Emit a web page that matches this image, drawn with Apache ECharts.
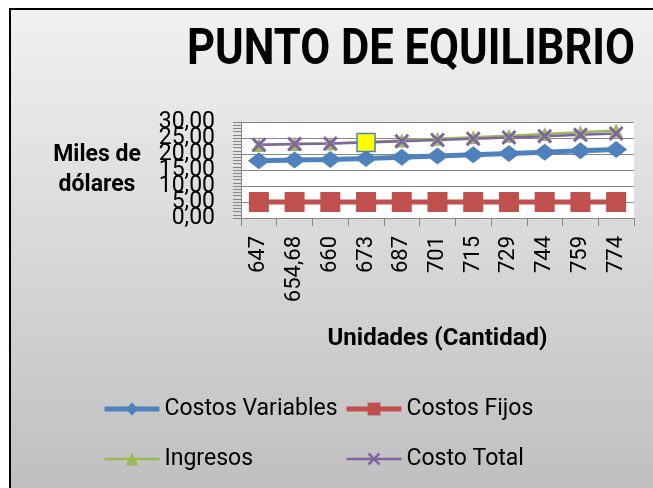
<!DOCTYPE html>
<html>
<head>
<meta charset="utf-8">
<script src="https://cdn.jsdelivr.net/npm/echarts@6/dist/echarts.min.js"></script>
<style>
  html, body { margin: 0; padding: 0; background: #fff; }
  #chart { width: 653px; height: 488px; }
</style>
</head>
<body>
<div id="chart"></div>
<script>
// Units sold (category axis)
const unidades = ['647', '654,68', '660', '673', '687', '701', '715', '729', '744', '759', '774'];

// Thousands of dollars per series
const costosVariables = [17.89, 18.10, 18.25, 18.61, 19.00, 19.38, 19.77, 20.16, 20.57, 20.99, 21.40];
const costosFijos     = [5.00, 5.00, 5.00, 5.00, 5.00, 5.00, 5.00, 5.00, 5.00, 5.00, 5.00];
const ingresos        = [22.83, 23.10, 23.29, 23.75, 24.24, 24.74, 25.23, 25.73, 26.26, 26.78, 27.31];
const costoTotal      = [22.89, 23.10, 23.25, 23.61, 24.00, 24.38, 24.77, 25.16, 25.57, 25.99, 26.40];

// Highlighted point on the total-cost line
const puntoResaltado = 3;

// Value axis range; labels are split in two sets so the tightly packed
// tick labels are not dropped by the overlap check
const yMin = 0, yMax = 30, yStep = 5, yLabelStep = 10;
const yEtiquetasIntermedias = ['5,00', '15,00', '25,00'];

const FONT = 'Roboto';
const AXIS_GRAY = '#868686';
const X_MARK = 'path://M0,1.4L1.4,0L5,3.6L8.6,0L10,1.4L6.4,5L10,8.6L8.6,10L5,6.4L1.4,10L0,8.6L3.6,5Z';

const chart = echarts.init(document.getElementById('chart'), null, { renderer: 'canvas' });

const costoTotalData = costoTotal.map((v, i) => i === puntoResaltado ? {
  value: v,
  symbol: 'rect',
  symbolSize: 18,
  itemStyle: { color: '#FFFF00', borderColor: '#4F81BD', borderWidth: 1.5 }
} : v);

const legendText = { fontFamily: FONT, fontSize: 23, color: '#000', lineHeight: 24 };
const legendBase = {
  orient: 'vertical',
  top: 397,
  padding: 0,
  itemGap: 26,
  itemWidth: 55,
  itemHeight: 16,
  textStyle: legendText
};

const yLabelStyle = { margin: 26, fontSize: 23, color: '#000', fontFamily: FONT };
const labelOnlyAxis = {
  position: 'left',
  axisLine: { show: false },
  axisTick: { show: false },
  splitLine: { show: false }
};

chart.setOption({
  animation: false,
  textStyle: { fontFamily: FONT },
  graphic: [
    {
      type: 'rect',
      silent: true,
      z: -100,
      shape: { x: 10, y: 9, width: 660, height: 490 },
      style: {
        fill: new echarts.graphic.LinearGradient(0, 0, 0, 1, [
          { offset: 0, color: '#f1f1f1' },
          { offset: 1, color: '#bebebe' }
        ]),
        stroke: '#000',
        lineWidth: 2
      }
    },
    {
      type: 'text',
      silent: true,
      x: 411,
      y: 51,
      scaleX: 0.87,
      style: {
        text: 'PUNTO DE EQUILIBRIO',
        font: 'bold 50px Roboto',
        fill: '#000',
        align: 'center',
        verticalAlign: 'middle'
      }
    }
  ],
  grid: {
    show: true,
    backgroundColor: '#fff',
    borderWidth: 0,
    left: 241,
    right: 19,
    top: 122,
    bottom: 270
  },
  legend: [
    Object.assign({}, legendBase, {
      left: 102,
      data: [
        { name: 'Costos Variables', lineStyle: { width: 5 } },
        { name: 'Ingresos', lineStyle: { width: 2.5 } }
      ]
    }),
    Object.assign({}, legendBase, {
      left: 344,
      data: [
        { name: 'Costos Fijos', lineStyle: { width: 5 } },
        { name: 'Costo Total', lineStyle: { width: 2.5 } }
      ]
    })
  ],
  xAxis: {
    type: 'category',
    data: unidades,
    boundaryGap: true,
    axisLine: { lineStyle: { color: AXIS_GRAY, width: 1 } },
    axisTick: { show: true, length: 8, lineStyle: { color: AXIS_GRAY } },
    axisLabel: { rotate: 90, interval: 0, margin: 18, fontSize: 22, color: '#000', fontFamily: FONT },
    splitLine: { show: false },
    name: 'Unidades (Cantidad)',
    nameLocation: 'middle',
    nameGap: 109,
    nameTextStyle: { fontFamily: FONT, fontWeight: 'bold', fontSize: 24, color: '#000' }
  },
  yAxis: [
    {
      type: 'value',
      position: 'left',
      min: yMin,
      max: yMax,
      interval: yStep,
      axisLine: { show: true, lineStyle: { color: AXIS_GRAY, width: 1 } },
      axisTick: { show: true, length: 8, lineStyle: { color: AXIS_GRAY } },
      minorTick: { show: true, splitNumber: 5, length: 8, lineStyle: { color: AXIS_GRAY } },
      splitLine: { show: true, lineStyle: { color: AXIS_GRAY, width: 1 } },
      axisLabel: { show: false },
      name: 'Miles de\ndólares',
      nameLocation: 'middle',
      nameRotate: 0,
      nameGap: 144,
      nameTextStyle: {
        fontFamily: FONT, fontWeight: 'bold', fontSize: 23, lineHeight: 30,
        color: '#000', align: 'center', padding: [8, 0, 0, 0]
      }
    },
    Object.assign({
      type: 'value',
      min: yMin,
      max: yMax,
      interval: yLabelStep,
      axisLabel: Object.assign({
        showMinLabel: true,
        showMaxLabel: true,
        formatter: v => v.toFixed(2).replace('.', ',')
      }, yLabelStyle)
    }, labelOnlyAxis),
    Object.assign({
      type: 'category',
      data: yEtiquetasIntermedias,
      boundaryGap: true,
      axisLabel: Object.assign({ interval: 0 }, yLabelStyle)
    }, labelOnlyAxis)
  ],
  series: [
    {
      name: 'Costos Variables',
      type: 'line',
      data: costosVariables,
      color: '#4F81BD',
      lineStyle: { width: 5 },
      symbol: 'diamond',
      symbolSize: [22, 17],
      showAllSymbol: true
    },
    {
      name: 'Costos Fijos',
      type: 'line',
      data: costosFijos,
      color: '#C0504D',
      lineStyle: { width: 5 },
      symbol: 'rect',
      symbolSize: 20,
      showAllSymbol: true
    },
    {
      name: 'Ingresos',
      type: 'line',
      data: ingresos,
      color: '#9BBB59',
      lineStyle: { width: 2.5 },
      symbol: 'triangle',
      symbolSize: 14,
      showAllSymbol: true
    },
    {
      name: 'Costo Total',
      type: 'line',
      data: costoTotalData,
      color: '#8064A2',
      lineStyle: { width: 2.5 },
      symbol: X_MARK,
      symbolSize: 15,
      showAllSymbol: true
    }
  ]
});
</script>
</body>
</html>
